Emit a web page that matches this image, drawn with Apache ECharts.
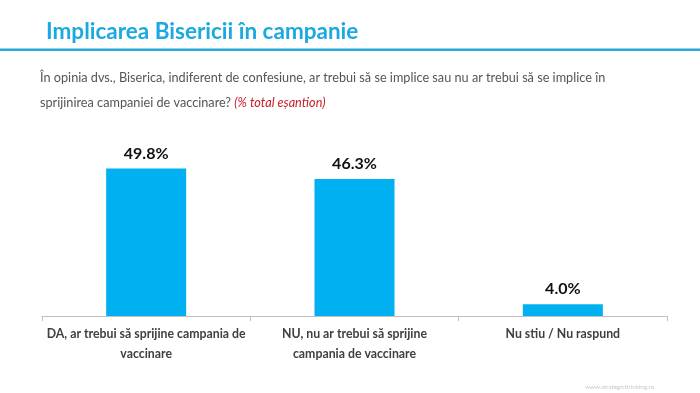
<!DOCTYPE html>
<html><head><meta charset="utf-8">
<script src="https://cdn.jsdelivr.net/npm/echarts@6/dist/echarts.min.js"></script>
<style>html,body{margin:0;padding:0;background:#fff}#c{width:700px;height:393px}</style>
</head><body><div id="c"></div>
<script>
const categories = [
  "DA, ar trebui să sprijine campania de\nvaccinare",
  "NU, nu ar trebui să sprijine\ncampania de vaccinare",
  "Nu stiu / Nu raspund"
];
const values = [49.8, 46.3, 4.0];
const titleText = "Implicarea Bisericii în campanie";
const questionLine1 = "În opinia dvs., Biserica, indiferent de confesiune, ar trebui să se implice sau nu ar trebui să se implice în";
const questionLine2 = "sprijinirea campaniei de vaccinare? ";
const questionNote = "(% total eșantion)";
const sourceText = "www.strategicthinking.ro";

const chart = echarts.init(document.getElementById('c'));
const FONT = 'Lato, "Open Sans", sans-serif';
chart.setOption({
  animation: false,
  backgroundColor: '#fff',
  title: [
    { text: titleText, left: 41, top: 15,
      textStyle: { fontFamily: FONT, fontWeight: 'bold', fontSize: 22.5, color: '#1aa9e0' } },
    { text: questionLine1, left: 35, top: 66,
      textStyle: { fontFamily: FONT, fontWeight: 'normal', fontSize: 12.7, color: '#555' } },
    { text: '{a|' + questionLine2 + '}{b|' + questionNote + '}', left: 35, top: 91,
      textStyle: { fontWeight: 'normal', rich: {
        a: { fontFamily: FONT, fontSize: 12.7, fontWeight: 'normal', color: '#555' },
        b: { fontFamily: FONT, fontSize: 12.7, fontWeight: 'normal', color: '#c8202a', fontStyle: 'italic' }
      } } },
    { text: sourceText, left: 580, top: 379,
      textStyle: { fontFamily: FONT, fontWeight: 'normal', fontSize: 6.3, color: '#c8c8c8' } }
  ],
  graphic: [
    { type: 'rect', shape: { x: 0, y: 48.5, width: 700, height: 2.5 }, style: { fill: '#2aa7d6' } }
  ],
  grid: { left: 42, right: 33, top: 168, bottom: 77, containLabel: false },
  xAxis: {
    type: 'category', data: categories,
    axisLine: { lineStyle: { color: '#c0c0c0', width: 1 } },
    axisTick: { show: true, length: 5, lineStyle: { color: '#c0c0c0' } },
    axisLabel: { margin: 8, fontFamily: FONT, fontSize: 12.3, fontWeight: 'bold', color: '#404040', lineHeight: 20, interval: 0 }
  },
  yAxis: { type: 'value', min: 0, max: 50, show: false, splitLine: { show: false } },
  series: [{
    type: 'bar', data: values, barWidth: 80,
    itemStyle: { color: '#00b0f0' },
    label: { show: true, position: 'top', distance: 7, formatter: p => p.value.toFixed(1) + '%',
      fontFamily: FONT, fontWeight: 'bold', fontSize: 16, color: '#111' }
  }]
});
</script></body></html>
